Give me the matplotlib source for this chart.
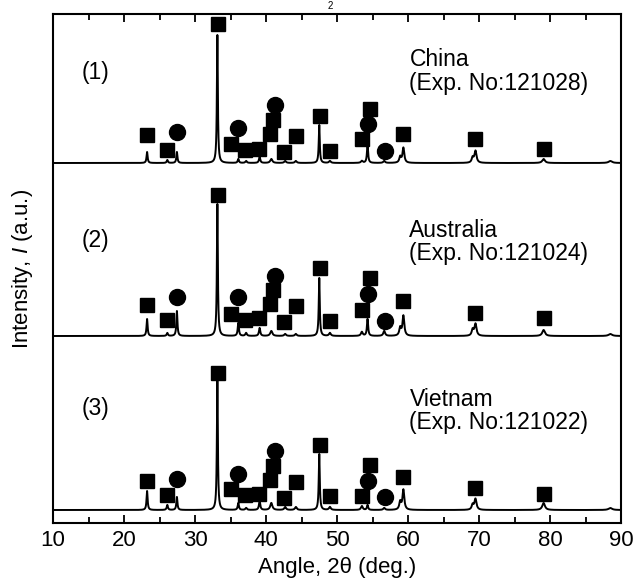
import numpy as np
import matplotlib
matplotlib.use("Agg")
import matplotlib.pyplot as plt

plt.rcParams['font.family'] = ['Liberation Sans', 'DejaVu Sans']
plt.rcParams['mathtext.fontset'] = 'custom'
plt.rcParams['mathtext.it'] = 'Liberation Sans:italic'
plt.rcParams['mathtext.rm'] = 'Liberation Sans'

# ---- data ----
peak_pos = [23.25, 26.1, 27.45, 33.15, 36.1, 37.2, 39.1, 40.75, 42.7, 44.2, 47.5, 49.0,
            53.5, 54.3, 56.65, 58.9, 59.35, 69.1, 69.5, 79.1, 88.5]
peak_fwhm = [0.18, 0.2, 0.18, 0.16, 0.2, 0.25, 0.22, 0.35, 0.3, 0.3, 0.17, 0.3,
             0.3, 0.2, 0.3, 0.3, 0.3, 0.3, 0.35, 0.45, 0.6]
peaks_china = [11, 3, 11, 128, 4, 2, 6, 4, 2, 2, 38, 2, 2, 18, 2, 6, 15, 5, 12, 4, 2]
peaks_australia = [17, 3, 25, 132, 13, 3, 8, 5, 2, 2, 58, 3, 4, 17, 5, 8, 20, 6, 12, 6, 2]
peaks_vietnam = [19, 5, 13, 133, 7, 2, 9, 7, 3, 3, 56, 3, 4, 5, 2, 8, 20, 5, 11, 7, 2]

marker_pos = [23.3, 26.1, 27.45, 33.2, 35.1, 36.1, 37.1, 39.0, 40.5, 40.95, 41.25, 42.6,
              44.2, 47.55, 49.0, 53.5, 54.3, 54.6, 56.7, 59.3, 69.5, 79.2]
marker_kind = ['s', 's', 'o', 's', 's', 'o', 's', 's', 's', 's', 'o', 's',
               's', 's', 's', 's', 'o', 's', 'o', 's', 's', 's']
markers_china = [28, 13, 31, 139, 19, 35, 13, 14, 29, 43, 58, 11, 27, 47, 12, 24, 39, 54, 12, 29, 24, 14]
markers_australia = [31, 16, 39, 141, 22, 39, 16, 18, 32, 46, 60, 14, 30, 68, 15, 26, 42, 58, 15, 35, 23, 18]
markers_vietnam = [29, 15, 31, 137, 21, 36, 15, 16, 30, 44, 59, 12, 28, 65, 14, 14, 29, 45, 13, 33, 22, 16]

offsets = [360, 187, 13]
labels_num = ['(1)', '(2)', '(3)']
labels_country = ['China', 'Australia', 'Vietnam']
labels_exp = ['(Exp. No:121028)', '(Exp. No:121024)', '(Exp. No:121022)']

x_ticks = [10, 20, 30, 40, 50, 60, 70, 80, 90]

# ---- figure ----
fig = plt.figure(figsize=(6.34, 5.8), dpi=100)
ax = fig.add_axes([53 / 634, 57 / 580, 568 / 634, 509 / 580])

two_theta = np.arange(10, 90.001, 0.01)


def profile(heights):
    y = np.zeros_like(two_theta)
    for p, w, h in zip(peak_pos, peak_fwhm, heights):
        g = (w / 2) ** 2 / ((two_theta - p) ** 2 + (w / 2) ** 2)
        y += h * g
    return y


series_peaks = [peaks_china, peaks_australia, peaks_vietnam]
series_marks = [markers_china, markers_australia, markers_vietnam]

for i in range(3):
    y = profile(series_peaks[i]) + offsets[i]
    ax.plot(two_theta, y, color='black', lw=1.4)
    for xp, hm, k in zip(marker_pos, series_marks[i], marker_kind):
        ax.plot(xp, offsets[i] + hm, marker=k, color='black',
                ms=10.5 if k == 's' else 11.5, mec='black', ls='none')

text_y = [(451, 463, 440), (283, 293, 270), (115, 123, 100)]
fs_in = 16.5
for i in range(3):
    ty_num, ty_c, ty_e = text_y[i][0], text_y[i][1], text_y[i][2]
    ax.text(14.1, ty_num, labels_num[i], fontsize=fs_in, va='center', ha='left')
    ax.text(60.2, ty_c, labels_country[i], fontsize=fs_in, va='center', ha='left')
    ax.text(60.2, ty_e, labels_exp[i], fontsize=fs_in, va='center', ha='left')

ax.set_xlim(10, 90)
ax.set_ylim(0, 509)
ax.set_xticks(x_ticks)
ax.set_xticks(np.arange(15, 90, 10), minor=True)
ax.set_yticks([])
ax.tick_params(axis='x', which='both', direction='in', top=True, bottom=True,
               labelsize=16, pad=5)
ax.tick_params(axis='x', which='major', length=6, width=1.3)
ax.tick_params(axis='x', which='minor', length=4, width=1.3)
for s in ax.spines.values():
    s.set_linewidth(1.5)

ax.set_xlabel('Angle, 2θ (deg.)', fontsize=16, labelpad=4)
ax.set_ylabel('Intensity, $I$ (a.u.)', fontsize=16, labelpad=13)

fig.text(330 / 634, 0.999, '2', fontsize=7, ha='center', va='top')

fig.savefig('out.png', dpi=100)
